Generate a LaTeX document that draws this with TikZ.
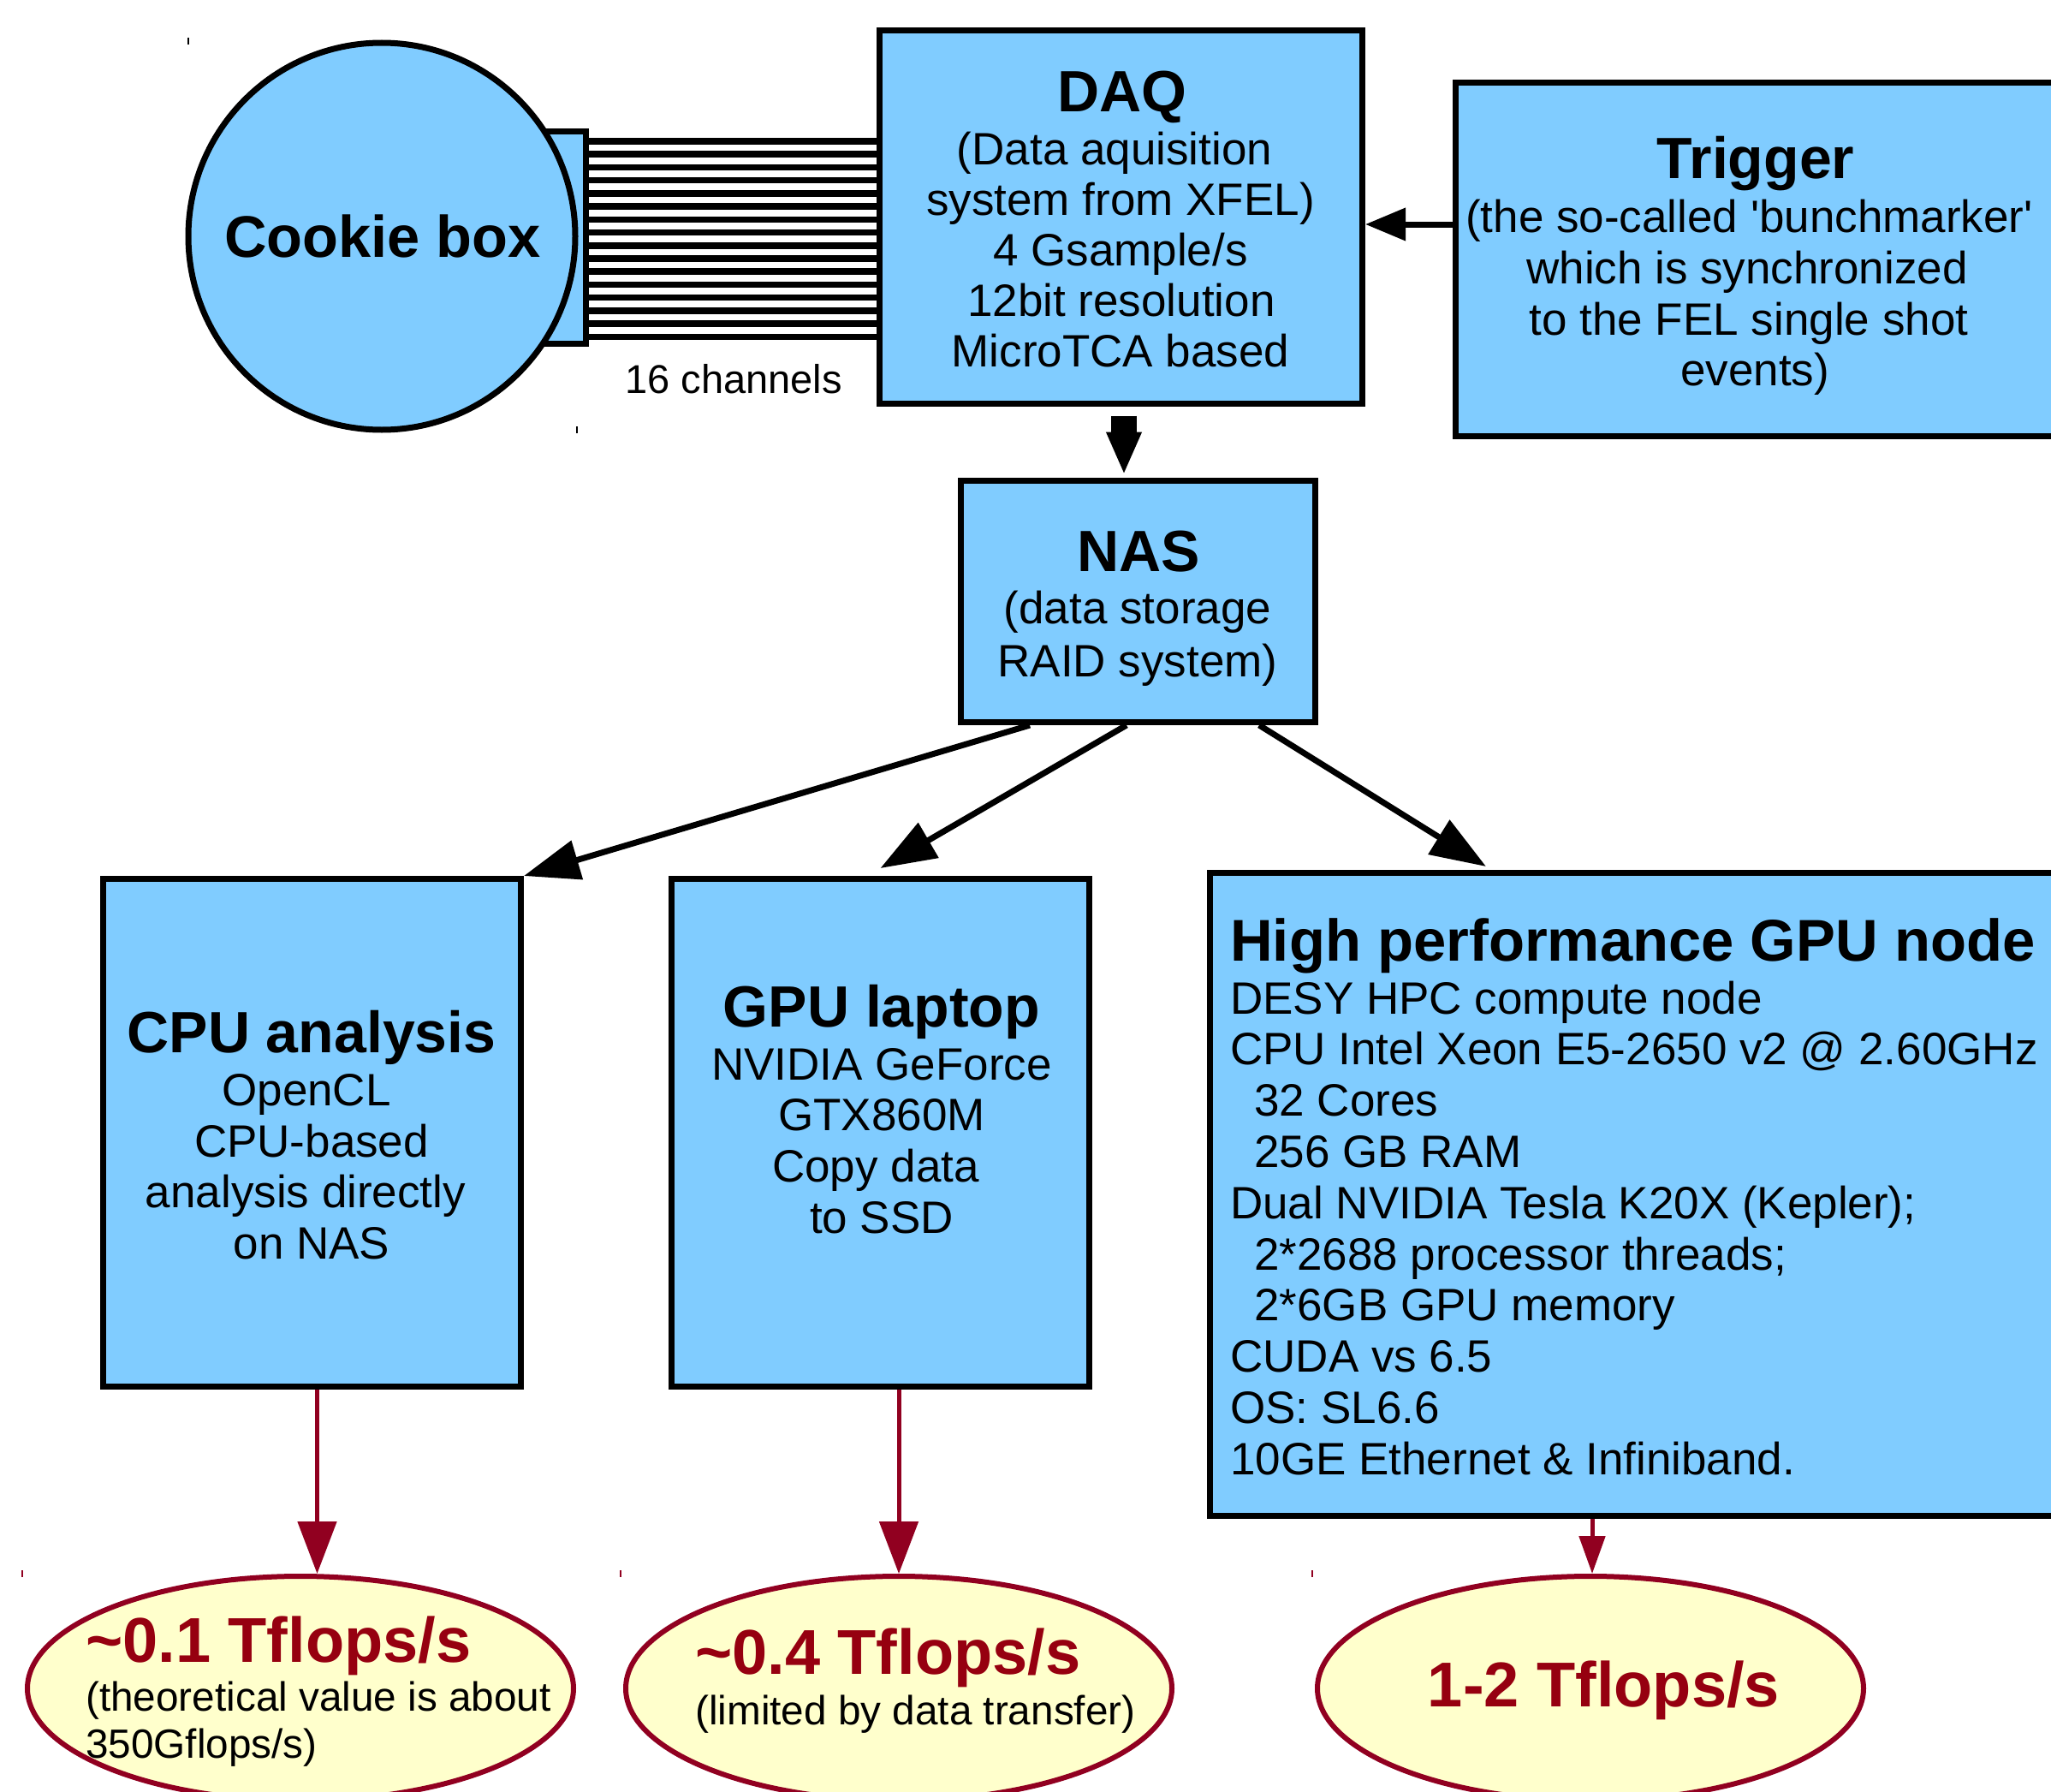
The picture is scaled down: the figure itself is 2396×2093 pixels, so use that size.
\documentclass[tikz,border=0pt]{standalone}
\usepackage{fontspec}
\setmainfont{Liberation Sans}
\usetikzlibrary{arrows.meta,shapes.geometric}
\definecolor{boxblue}{RGB}{128,204,255}
\definecolor{cream}{RGB}{255,255,204}
\definecolor{rimred}{RGB}{145,0,32}
\definecolor{rateRed}{RGB}{150,0,16}

\begin{document}
\begin{tikzpicture}[x=1pt,y=-1pt,
  box/.style={draw=black,fill=boxblue,line width=7pt,rectangle,inner sep=0pt},
  result/.style={draw=rimred,fill=cream,line width=6pt,ellipse,inner sep=0pt,
    minimum width=638pt,minimum height=262pt},
  wire/.style={line width=7.5pt,black},
  flow/.style={line width=7pt,-{Triangle[length=65pt,width=46pt]}},
  yield/.style={line width=5pt,rimred,-{Triangle[length=61pt,width=45pt]}},
  tick/.style={line width=1.5pt},
  head/.style={font=\fontsize{68}{70}\selectfont\bfseries,inner sep=0pt,anchor=base},
  body/.style={font=\fontsize{53}{59}\selectfont,inner sep=0pt,anchor=base},
  rate/.style={font=\fontsize{74}{76}\selectfont\bfseries,text=rateRed,inner sep=0pt,anchor=base},
  note/.style={font=\fontsize{47.7}{54}\selectfont,inner sep=0pt,anchor=base}]
\useasboundingbox (0,0) rectangle (2396,2093);

% ---------- cookie box with its 16-channel plug ----------
\node[box,minimum width=84.5pt,minimum height=248pt] (plug) at (642.25,277.5) {};
\node[box,circle,minimum size=452pt] (cookie) at (446,276) {};
\node[head,font=\fontsize{68.6}{70}\selectfont\bfseries] (cookie-t) at (447,300) {Cookie box};
\draw[tick] (220,44) -- (220,52);
\draw[tick] (674,498) -- (674,506);

% ---------- DAQ ----------
\node[box,minimum width=564pt,minimum height=436pt] (daq) at (1309.5,253.5) {};
\node[head] (daq-t) at (1311,130) {DAQ};
\node[body] (daq-1) at (1302,192) {(Data aquisition};
\node[body] (daq-2) at (1309,251.2) {system from XFEL)};
\node[body] (daq-3) at (1309,310.4) {4 Gsample/s};
\node[body] (daq-4) at (1310,369.6) {12bit resolution};
\node[body] (daq-5) at (1309,428.8) {MicroTCA based};

\foreach \k in {0,...,15}
  \draw[wire] (plug.east |- 0,{165+15.22*\k}) -- (daq.west |- 0,{165+15.22*\k});
\node[font=\fontsize{47}{49}\selectfont,inner sep=0pt,anchor=base] (chan) at (857,459) {16 channels};

% ---------- trigger ----------
\node[box,minimum width=706pt,minimum height=413pt] (trig) at (2053.5,303) {};
\node[head] (trig-t) at (2051,208) {Trigger};
\node[body] (trig-1) at (2043.5,271) {(the so-called \textquotesingle bunchmarker\textquotesingle};
\node[body] (trig-2) at (2041,331) {which is synchronized};
\node[body] (trig-3) at (2043,391) {to the FEL single shot};
\node[body] (trig-4) at (2050,450) {events)};
\draw[line width=7pt,-{Triangle[length=47pt,width=37pt]}]
  (trig.west |- 0,262) -- (daq.east |- 0,262);

% ---------- NAS ----------
\node[box,minimum width=414pt,minimum height=282pt] (nas) at (1329.5,702.5) {};
\node[head] (nas-t) at (1330,667) {NAS};
\node[body] (nas-1) at (1329,728) {(data storage};
\node[body] (nas-2) at (1329,790) {RAID system)};
\draw[line width=30pt,-{Triangle[length=50pt,width=38pt]}]
  ([yshift=-10.5pt]daq.south -| 1313,0) -- ([yshift=3.5pt]nas.north -| 1313,0);

% ---------- analysis branches ----------
\node[box,minimum width=488pt,minimum height=593pt] (cpu) at (364.5,1323) {};
\node[head] (cpu-t) at (364,1229) {CPU analysis};
\node[body] (cpu-1) at (358,1291) {OpenCL};
\node[body] (cpu-2) at (364,1351) {CPU-based};
\node[body] (cpu-3) at (357,1410) {analysis directly};
\node[body] (cpu-4) at (364,1470) {on NAS};

\node[box,minimum width=488pt,minimum height=593pt] (gpu) at (1028.5,1323) {};
\node[head] (gpu-t) at (1030,1199) {GPU laptop};
\node[body] (gpu-1) at (1030,1261) {NVIDIA GeForce};
\node[body] (gpu-2) at (1030,1320) {GTX860M};
\node[body] (gpu-3) at (1023,1380) {Copy data};
\node[body] (gpu-4) at (1030,1440) {to SSD};

\node[box,minimum width=1003pt,minimum height=751pt] (hpc) at (1915,1395) {};
\node[head,anchor=base west,font=\fontsize{68.8}{70}\selectfont\bfseries] (hpc-t) at (1437,1122) {High performance GPU node};
\begin{scope}[every node/.style={body,anchor=base west}]
  \node (hpc-1) at (1437,1184) {DESY HPC compute node};
  \node (hpc-2) at (1437,1243.8) {CPU Intel Xeon E5-2650 v2 @ 2.60GHz};
  \node (hpc-3) at (1465,1303.6) {32 Cores};
  \node (hpc-4) at (1465,1363.4) {256 GB RAM};
  \node (hpc-5) at (1437,1423.2) {Dual NVIDIA Tesla K20X (Kepler);};
  \node (hpc-6) at (1465,1483) {2*2688 processor threads;};
  \node (hpc-7) at (1465,1542.8) {2*6GB GPU memory};
  \node (hpc-8) at (1437,1602.6) {CUDA vs 6.5};
  \node (hpc-9) at (1437,1662.4) {OS: SL6.6};
  \node (hpc-10) at (1437,1722.2) {10GE Ethernet \& Infiniband.};
\end{scope}

\draw[flow] ([xshift=84pt]nas.south west) -- (cpu.north east);
\draw[flow] ([xshift=197pt]nas.south west) -- ([yshift=9pt]gpu.north);
\draw[flow] ([xshift=352pt]nas.south west) -- ([xshift=326pt,yshift=4pt]hpc.north west);

% ---------- achieved throughput ----------
\node[result] (e1) at (351,1972) {};
\node[result] (e2) at (1050,1972) {};
\node[result] (e3) at (1858,1972) {};

\node[rate,anchor=base west] (e1-t) at (100,1941) {\textasciitilde 0.1 Tflops/s};
\node[note,anchor=base west] (e1-1) at (100,1998) {(theoretical value is about};
\node[note,anchor=base west] (e1-2) at (100,2053) {350Gflops/s)};
\node[rate,anchor=base west] (e2-t) at (812,1955) {\textasciitilde 0.4 Tflops/s};
\node[note,anchor=base west] (e2-1) at (812,2014) {(limited by data transfer)};
\node[rate,text=rateRed] (e3-t) at (1873.5,1993) {1-2 Tflops/s};

\draw[yield] ([xshift=6pt]cpu.south) -- ([xshift=6pt]cpu.south |- e1.north);
\draw[yield] (e2.north |- gpu.south) -- (e2.north);
\draw[yield,-{Triangle[length=44pt,width=30pt]}] ([xshift=2pt]e3.north |- hpc.south) -- ([xshift=2pt]e3.north);

\foreach \e in {e1,e2,e3}
  \draw[tick,rimred] ([xshift=-3pt,yshift=4pt]\e.west |- \e.north) -- ([xshift=-3pt,yshift=-4pt]\e.west |- \e.north);
\end{tikzpicture}
\end{document}
